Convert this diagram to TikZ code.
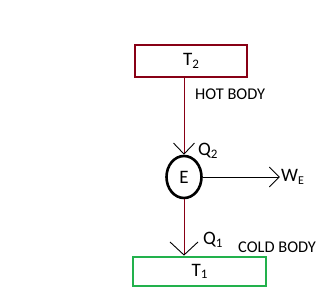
\documentclass[tikz,border=0pt]{standalone}
\usepackage{fontspec}
\setmainfont{Carlito}
\usepackage{xcolor}
\usetikzlibrary{arrows.meta,shapes.geometric,positioning}
\definecolor{maroon}{HTML}{880015}
\definecolor{paintgreen}{HTML}{22B14C}
\newcommand\sbs[1]{\raisebox{-0.3ex}{\fontsize{13}{13}\selectfont #1}}
\tikzset{
  reservoir/.style={draw,line width=2.8pt,inner sep=0pt,font=\fontsize{19}{19}\selectfont},
  lbl/.style={inner sep=0pt,font=\fontsize{19}{19}\selectfont},
  caps/.style={inner sep=0pt,font=\fontsize{16.4}{16.4}\selectfont},
  flow/.style={line width=0.9pt},
}
\begin{document}
\begin{tikzpicture}[x=1pt,y=-1pt]
  \useasboundingbox (0,0) rectangle (325,297);
  \node[reservoir,maroon,minimum width=112,minimum height=32] (hot) at (191,61) {\color{black}T\sbs{2}};
  \node[reservoir,paintgreen,minimum width=133,minimum height=29] (cold) at (199.5,271.5) {\color{black}T\sbs{1}};
  \node[draw,ellipse,line width=2.6pt,minimum width=35,minimum height=42,lbl] (eng) at (184,177) {E};
  \coordinate (we) at (280,177);
  % heat flows and work
  \draw[flow,maroon,arrows={-{Straight Barb[length=11pt,width=21pt,black,line width=0.9pt]}}] (eng.north |- hot.south) -- (eng.north);
  \draw[flow,maroon,arrows={-{Straight Barb[length=13pt,width=28pt,black,line width=0.9pt]}}] (eng.south) -- (eng.south |- cold.north);
  \draw[flow,arrows={-{Straight Barb[length=10pt,width=20pt,line width=0.9pt]}}] (eng.east) -- (we);
  % labels
  \node[caps,anchor=west] (hotlbl) at (195,94) {HOT BODY};
  \node[caps,anchor=west] (coldlbl) at (238,247) {COLD BODY};
  \node[lbl,anchor=west] (q2) at (198,151) {Q\sbs{2}};
  \node[lbl,anchor=west] (q1) at (203,240) {Q\sbs{1}};
  \node[lbl,anchor=west] (wlbl) at (281,177) {W\sbs{\fontsize{12}{12}\selectfont E}};
\end{tikzpicture}
\end{document}
